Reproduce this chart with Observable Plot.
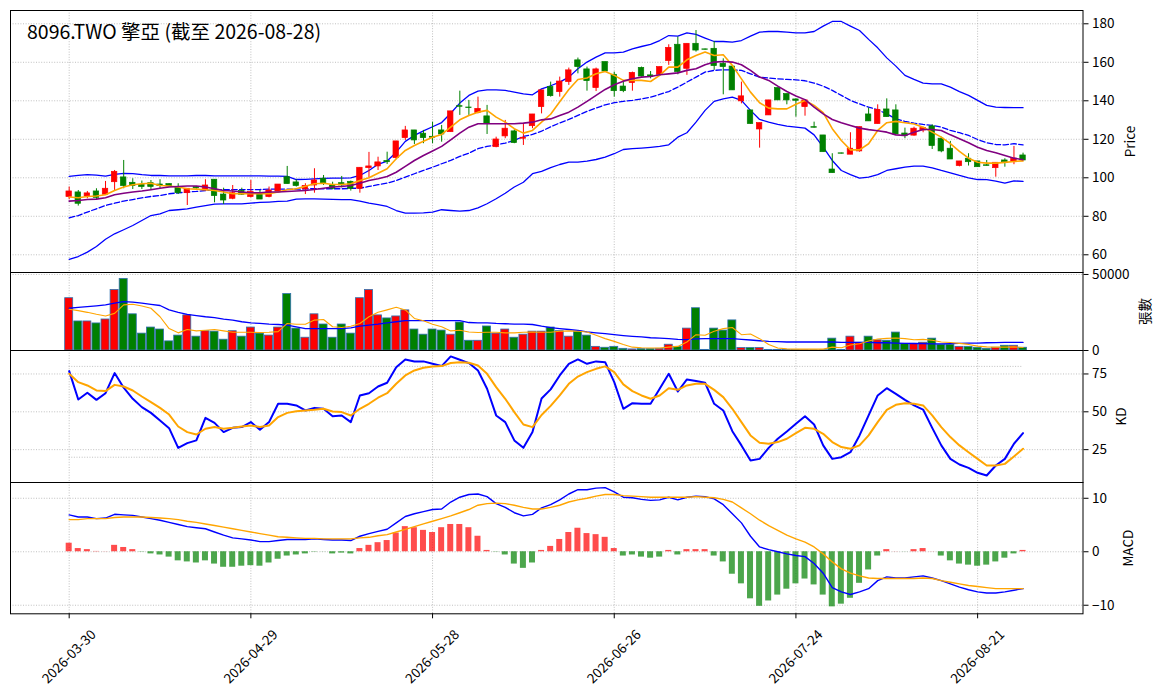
<!DOCTYPE html>
<html>
<head>
<meta charset="utf-8">
<script src="https://cdn.jsdelivr.net/npm/d3@7"></script>
<script src="https://cdn.jsdelivr.net/npm/@observablehq/plot@0.6"></script>
<style>
  html, body { margin: 0; padding: 0; background: white; }
  #chart { position: relative; width: 1163px; height: 698px; }
  #chart svg { position: absolute; left: 0; top: 0; overflow: visible; }
</style>
</head>
<body>
<div id="chart"></div>
<script>
const title = "8096.TWO 擎亞 (截至 2026-08-28)";
const dates = ["2026-03-30","2026-03-31","2026-04-01","2026-04-02","2026-04-07","2026-04-08","2026-04-09","2026-04-10","2026-04-13","2026-04-14",
"2026-04-15","2026-04-16","2026-04-17","2026-04-20","2026-04-21","2026-04-22","2026-04-23","2026-04-24","2026-04-27","2026-04-28",
"2026-04-29","2026-04-30","2026-05-04","2026-05-05","2026-05-06","2026-05-07","2026-05-08","2026-05-11","2026-05-12","2026-05-13",
"2026-05-14","2026-05-15","2026-05-18","2026-05-19","2026-05-20","2026-05-21","2026-05-22","2026-05-25","2026-05-26","2026-05-27",
"2026-05-28","2026-05-29","2026-06-01","2026-06-02","2026-06-03","2026-06-04","2026-06-05","2026-06-08","2026-06-09","2026-06-10",
"2026-06-11","2026-06-12","2026-06-15","2026-06-16","2026-06-17","2026-06-18","2026-06-22","2026-06-23","2026-06-24","2026-06-25",
"2026-06-26","2026-06-29","2026-06-30","2026-07-01","2026-07-02","2026-07-03","2026-07-06","2026-07-07","2026-07-08","2026-07-09",
"2026-07-10","2026-07-13","2026-07-14","2026-07-15","2026-07-16","2026-07-17","2026-07-20","2026-07-21","2026-07-22","2026-07-23",
"2026-07-24","2026-07-27","2026-07-28","2026-07-29","2026-07-30","2026-07-31","2026-08-03","2026-08-04","2026-08-05","2026-08-06",
"2026-08-07","2026-08-10","2026-08-11","2026-08-12","2026-08-13","2026-08-14","2026-08-17","2026-08-18","2026-08-19","2026-08-20",
"2026-08-21","2026-08-24","2026-08-25","2026-08-26","2026-08-27","2026-08-28"];
const xTickDates = ["2026-03-30","2026-04-29","2026-05-28","2026-06-26","2026-07-24","2026-08-21"];

const open = [90.0,92.4,90.3,92.9,91.2,97.7,100.2,97.4,96.2,97.2,96.5,96.7,94.8,92.0,95.2,93.4,99.0,91.3,89.1,93.1,
90.0,92.0,90.0,92.9,100.3,97.6,94.0,96.0,99.5,96.0,97.2,97.9,94.3,105.0,105.9,108.7,110.2,120.6,124.6,122.9,
121.3,124.6,123.7,137.2,136.5,133.6,131.9,115.9,121.5,124.1,120.3,126.8,136.7,147.1,144.5,149.7,161.0,156.3,146.6,160.1,
153.5,147.4,149.2,157.1,153.2,153.5,160.6,169.1,156.6,169.6,166.7,167.0,159.2,157.8,139.7,135.0,125.1,132.4,146.6,143.5,
140.7,136.7,126.3,122.0,104.3,112.7,112.0,113.7,132.9,127.9,135.5,135.0,123.0,121.9,124.6,126.7,120.3,115.1,106.1,109.9,
108.5,106.5,105.0,109.0,108.1,111.6];
const high = [95.2,93.4,92.9,94.3,98.1,103.8,109.0,99.5,98.3,98.6,99.0,96.9,96.9,94.3,95.5,99.0,99.0,94.6,96.0,94.6,
98.6,93.4,95.2,96.5,105.9,99.0,96.9,104.7,101.2,97.7,100.7,98.3,105.2,113.2,110.7,113.3,118.9,126.7,124.6,124.6,
128.9,127.2,134.5,145.0,140.2,141.9,137.6,121.1,129.8,124.9,127.7,132.9,145.4,149.7,152.3,157.0,162.2,157.5,157.0,160.1,
154.9,150.0,154.9,157.5,155.2,157.5,169.1,173.1,169.6,176.5,166.9,170.8,161.8,157.8,149.7,135.0,128.4,140.2,146.6,143.5,
141.0,140.2,128.9,122.0,112.5,112.8,123.4,126.3,136.2,137.9,141.0,137.9,125.8,126.3,126.3,127.5,121.1,118.9,108.5,112.5,
108.5,109.0,107.8,109.9,116.3,112.8];
const low = [88.6,85.3,89.1,88.7,90.8,93.4,94.3,93.9,93.9,93.9,94.3,95.2,91.3,85.6,94.0,93.4,87.0,86.1,88.6,90.8,
89.6,88.7,89.6,92.6,96.7,95.2,91.3,92.0,96.0,93.8,94.8,93.1,92.0,100.0,103.8,106.9,109.4,119.4,117.3,117.7,
117.7,118.5,123.7,132.4,132.4,133.2,122.5,115.6,120.3,117.7,116.8,125.5,133.2,141.9,141.9,148.0,154.0,145.0,144.8,154.9,
141.9,144.2,145.0,152.3,151.4,152.8,158.4,153.5,153.2,165.3,166.3,155.8,143.1,145.4,138.4,127.9,115.4,132.4,140.2,137.9,
131.5,132.0,125.8,113.3,102.4,112.4,112.0,113.3,129.3,127.9,131.5,122.5,120.3,121.6,123.4,114.7,113.0,109.5,105.7,106.1,
105.5,106.1,100.3,105.5,106.8,109.0];
const close = [92.9,86.5,91.9,89.6,94.3,103.1,95.7,95.7,95.2,95.2,95.7,95.5,92.0,94.3,94.5,96.0,90.5,88.2,92.0,91.2,
92.6,88.7,93.4,96.5,96.7,95.7,95.8,98.6,96.9,94.3,96.0,94.3,105.2,105.9,108.0,108.1,118.9,124.6,119.4,120.6,
120.8,122.5,134.5,136.9,136.2,135.8,128.1,119.9,125.5,118.0,120.8,132.9,145.4,142.4,150.0,155.8,157.5,150.2,156.3,155.2,
145.0,145.0,154.5,152.6,152.3,157.5,167.5,154.9,169.6,166.1,166.5,158.0,157.5,145.4,142.3,127.9,128.4,140.2,140.2,140.2,
140.0,140.2,126.0,113.3,102.4,112.5,115.1,126.3,129.3,135.3,131.5,122.5,121.6,125.5,125.8,116.5,113.7,109.5,108.5,108.1,
105.5,106.2,107.8,108.1,109.9,109.0];
const ma5 = [90.0,89.6,90.3,90.5,91.2,93.4,95.2,96.4,96.9,97.2,96.0,95.7,95.2,94.3,94.1,93.8,93.4,92.6,91.7,91.7,
91.7,91.7,91.7,92.6,93.8,94.3,95.6,96.9,97.2,96.5,96.5,96.9,98.6,100.0,102.4,104.7,109.9,114.2,116.8,119.0,
121.1,122.5,126.3,130.1,132.4,134.1,135.0,131.5,128.9,125.5,123.2,124.6,128.9,133.0,139.5,145.9,151.1,151.8,154.0,155.2,
153.2,150.6,150.6,150.6,150.0,153.2,157.5,157.5,161.3,163.5,165.3,163.5,163.9,158.4,151.4,144.5,139.0,136.2,135.8,135.8,
138.2,140.2,137.6,133.8,125.5,119.4,114.5,114.5,117.7,124.6,128.6,129.3,128.6,127.9,126.3,123.7,121.1,117.7,113.7,110.2,
108.1,107.6,107.6,108.0,108.5,108.8];
const ma10 = [87.9,88.2,88.7,88.9,89.6,91.2,92.0,92.6,93.1,93.8,94.6,95.2,95.5,95.7,95.7,95.2,94.3,93.4,93.1,92.6,
92.2,92.2,92.6,92.6,92.9,93.1,93.4,93.9,94.6,95.2,95.5,96.0,97.2,98.6,99.5,100.7,102.9,105.9,109.0,111.6,
113.9,116.3,119.7,123.2,126.3,128.1,128.1,128.1,128.1,128.1,128.4,128.9,130.1,130.6,132.4,134.1,136.7,139.7,142.8,145.9,
148.3,150.2,151.4,152.3,152.6,153.5,154.0,154.5,155.8,156.6,158.7,160.1,160.4,160.1,158.7,155.8,152.3,150.6,147.6,144.8,
142.5,140.6,136.7,133.2,130.3,128.6,127.2,125.8,125.0,124.4,123.7,122.3,122.0,123.7,125.1,125.1,124.6,122.3,120.3,118.2,
115.9,114.2,113.0,111.6,110.2,109.4];
const ma20 = [79.2,80.4,82.2,83.9,85.6,86.8,87.9,88.7,89.6,90.3,90.8,91.7,92.2,92.6,92.9,93.4,93.8,93.8,93.8,93.8,
93.9,93.9,94.1,94.1,94.1,94.1,94.2,94.4,94.3,94.3,94.3,94.5,94.6,95.5,96.4,97.2,98.6,100.3,102.1,103.8,
105.5,107.3,109.0,111.1,112.8,115.1,116.3,117.1,118.0,119.4,121.5,122.5,124.2,126.5,128.5,130.3,132.4,134.5,136.2,137.9,
139.0,139.7,140.2,141.0,141.9,143.3,144.8,147.1,149.7,152.3,154.9,155.8,156.1,156.1,155.8,154.0,152.3,151.8,151.4,151.1,
150.9,150.4,149.2,147.6,145.4,142.8,140.2,138.4,136.7,135.3,133.2,130.6,129.3,128.4,127.7,127.2,126.3,124.6,123.4,122.0,
119.9,118.2,117.3,117.1,117.7,117.1];
const bbUpper = [100.7,101.2,101.6,101.4,100.9,101.8,102.3,102.2,101.6,101.2,101.2,101.0,101.0,101.0,101.2,101.2,101.0,101.0,101.0,101.0,
101.0,101.0,100.9,100.9,100.7,99.1,99.2,99.4,99.7,99.8,99.8,100.0,101.2,103.8,107.0,108.7,113.3,118.9,122.0,124.4,
126.5,128.7,133.5,138.8,142.8,145.0,145.7,145.7,145.4,144.5,143.6,143.1,146.2,147.8,149.7,152.3,156.6,160.1,162.7,164.9,
164.9,165.3,167.0,168.2,169.3,171.3,173.9,173.6,175.3,174.5,172.6,170.8,170.8,170.5,171.3,173.6,175.7,176.0,176.0,175.7,
175.3,175.3,176.0,178.8,181.2,181.2,178.8,176.5,171.9,167.5,162.3,158.0,153.2,151.1,149.2,148.8,148.8,147.1,144.8,142.8,
140.2,137.6,136.7,136.5,136.4,136.4];
const bbLower = [57.6,59.1,61.4,64.3,68.1,70.9,73.0,75.2,77.8,80.4,81.3,83.0,83.4,83.9,84.8,85.5,86.3,86.5,86.5,86.5,
86.8,87.2,87.4,87.7,87.9,88.9,89.0,89.0,88.9,88.8,88.7,88.7,87.9,86.8,86.1,85.1,83.0,81.6,81.6,81.8,
82.2,83.4,83.0,82.7,83.0,84.4,86.5,89.1,92.0,95.2,97.7,102.1,103.3,105.3,106.9,108.1,108.1,108.7,109.5,110.7,
112.5,114.7,115.1,115.4,115.8,116.3,117.1,121.1,123.4,128.9,135.0,139.7,141.0,141.9,140.2,135.0,130.3,128.9,127.7,126.8,
126.3,125.8,122.3,115.9,109.0,103.8,101.6,99.8,100.3,101.6,103.8,104.7,105.5,106.1,106.1,105.2,103.8,102.6,101.2,100.0,
99.1,99.0,98.3,97.2,98.4,98.1];
const volume = [34400,19100,19100,17800,20400,39800,47100,23800,11100,15100,13800,6000,9800,23100,9100,12700,12400,7100,12700,9100,
15100,11100,9800,15100,37100,14400,8400,23800,17100,8400,17100,11100,34400,39800,23100,21100,22400,26400,13800,10400,
13800,13100,10400,18400,6400,6400,15800,11100,13800,8400,10400,12400,12400,15100,12700,9100,12400,9800,2400,1800,
2400,1100,700,900,900,1100,3800,2400,14400,27800,400,14400,13100,19800,1600,1600,1600,400,400,400,
400,200,200,200,7800,400,9100,5100,9100,6700,6400,11800,4400,4400,5100,7800,3800,3800,2400,2400,
1800,1100,1800,3100,3100,1800];
const volMa5 = [27100,26200,25100,23800,22700,24400,30000,30400,29300,27800,22200,14400,11600,13800,12900,13300,13800,12900,12000,12000,
12000,11800,12000,12400,17800,17300,17300,20000,20400,15600,15100,16000,17800,22200,25100,26700,28400,26700,21100,19600,
17300,15600,12900,13300,12200,11800,12000,12000,11600,11600,12000,12200,12000,12000,12700,12900,12700,12200,10000,7800,
6000,4000,2200,1800,1600,1600,2200,2700,5600,10400,10000,12700,14400,15100,10400,10900,7800,4000,1600,1100,
900,900,900,900,2200,1800,3600,4400,6200,7600,8000,8200,7800,7100,7300,6700,5600,5300,4700,4000,
2900,2400,2200,2200,2400,2000];
const volMa20 = [27800,28300,28900,29400,30000,31100,32200,31800,31100,30400,29600,26700,25100,23800,23000,22200,21600,20700,20000,18900,
18200,17800,17300,17100,16700,15600,14400,14400,14400,14400,14400,14900,16000,16700,17300,18200,18900,19600,19600,19600,
19600,19600,19600,19600,18400,18200,18200,17800,17600,17400,17300,17100,16000,15100,14400,13800,13300,12200,11600,11100,
10400,9800,9300,8900,8400,8200,7800,7300,7100,7600,7800,7800,7800,7800,7300,6900,6400,6000,5800,5600,
5600,5600,5600,5600,5600,5300,5300,5300,5300,5100,5100,4900,4700,4600,4500,4400,4400,4500,4700,4800,
4900,5100,5200,5300,5300,5300];
const kLine = [76.9,58.1,62.6,57.9,62.3,75.6,65.9,58.6,53.1,49.3,44.3,39.2,26.2,29.3,31.1,46.0,42.7,36.6,39.4,39.9,
43.2,38.1,43.2,55.3,55.3,54.2,50.9,52.6,52.0,47.1,47.6,43.2,60.8,62.3,66.7,69.2,79.5,84.6,83.3,83.3,
81.7,80.2,86.6,84.4,82.2,77.3,65.2,47.6,43.2,31.1,26.2,36.6,58.8,64.8,74.0,81.7,84.6,81.7,83.3,82.8,
69.6,52.0,55.7,55.3,55.3,65.2,75.1,63.4,71.4,70.3,69.2,55.3,50.9,37.2,27.8,17.8,18.9,26.2,32.2,37.0,
42.1,47.1,41.6,27.8,18.9,20.0,23.3,34.4,47.6,60.8,65.6,61.9,57.9,54.2,51.5,39.4,27.8,18.9,15.2,13.0,
9.7,7.9,14.5,18.9,28.9,35.9];
const dLine = [75.1,69.6,67.4,64.1,63.7,67.8,66.7,64.1,60.1,56.4,52.6,48.2,40.3,36.6,35.0,38.8,39.9,38.8,39.4,40.3,
41.0,39.9,41.0,46.5,49.3,50.4,50.9,51.3,52.0,50.2,49.8,47.6,52.0,55.3,59.3,62.3,68.5,74.0,77.3,79.1,
80.0,80.2,82.2,82.8,82.4,80.6,75.1,66.3,58.6,49.8,41.6,39.9,47.9,53.9,60.8,68.5,73.3,76.2,78.4,80.0,
76.2,68.1,63.7,60.8,58.6,60.8,65.6,64.5,67.4,68.5,68.5,64.5,59.7,52.0,43.2,34.4,29.5,28.9,30.0,32.2,
35.9,39.4,38.8,35.5,30.0,26.7,25.6,27.8,34.4,43.2,51.3,54.6,55.7,55.3,54.2,47.6,39.9,33.3,27.8,23.3,
18.9,14.5,14.5,15.6,20.5,25.6];
const dif = [6.9,6.5,6.5,6.2,6.3,7.0,6.9,6.8,6.5,6.2,5.9,5.5,5.1,4.7,4.5,4.3,3.7,3.1,2.6,2.4,
2.2,1.9,1.9,2.1,2.3,2.3,2.3,2.4,2.3,2.2,2.2,2.1,2.9,3.4,3.8,4.2,5.4,6.6,7.1,7.5,
7.9,8.0,9.3,10.2,10.7,10.8,10.3,9.0,8.3,7.3,6.7,7.0,8.2,8.8,9.7,10.8,11.6,11.6,11.9,12.0,
11.2,10.2,10.1,9.8,9.6,9.7,10.2,9.7,10.2,10.4,10.3,9.9,8.8,7.1,5.4,2.9,0.9,0.4,0.0,-0.4,
-0.7,-0.9,-2.2,-4.0,-6.7,-7.5,-8.0,-7.5,-6.9,-5.4,-4.7,-4.9,-4.9,-4.7,-4.5,-4.9,-5.4,-6.0,-6.6,-7.1,
-7.5,-7.7,-7.7,-7.5,-7.2,-6.9];
const dea = [6.0,6.0,6.2,6.2,6.2,6.4,6.5,6.5,6.5,6.4,6.3,6.2,6.0,5.7,5.5,5.2,4.9,4.6,4.3,4.0,
3.7,3.4,3.1,2.8,2.7,2.6,2.5,2.5,2.4,2.4,2.4,2.4,2.6,2.7,3.0,3.2,3.7,4.2,4.7,5.2,
5.7,6.2,6.7,7.3,7.9,8.7,9.0,9.1,9.0,8.7,8.3,8.0,8.0,8.3,8.7,9.3,9.7,10.0,10.4,10.7,
10.7,10.5,10.4,10.3,10.2,10.2,10.2,10.2,10.2,10.3,10.2,10.1,9.8,9.3,8.2,7.1,5.9,4.9,4.0,3.1,
2.4,1.8,0.9,-0.4,-1.9,-3.2,-4.0,-4.5,-4.9,-5.0,-5.0,-5.0,-5.0,-5.0,-4.9,-5.0,-5.4,-5.7,-6.0,-6.3,
-6.5,-6.7,-6.9,-6.9,-6.9,-6.9];
const hist = [1.6,0.6,0.4,0.06,0.02,1.2,0.8,0.4,-0.05,-0.4,-0.6,-1.0,-1.7,-1.9,-2.1,-1.7,-2.3,-2.9,-2.9,-2.7,
-2.6,-2.7,-2.1,-1.4,-0.8,-0.6,-0.4,-0.06,-0.02,-0.4,-0.25,-0.4,0.6,1.2,1.7,2.1,3.5,4.7,4.5,4.0,
3.6,4.5,5.1,5.1,4.5,2.9,0.25,-0.05,-0.6,-2.3,-3.1,-2.1,0.25,1.0,2.3,3.6,4.4,3.4,3.2,2.7,
0.6,-0.8,-0.6,-1.0,-1.2,-1.0,0.25,-0.6,0.4,0.4,0.4,-0.8,-1.9,-4.2,-6.0,-8.8,-10.2,-9.2,-8.1,-7.0,
-6.0,-5.1,-6.2,-8.1,-10.3,-9.8,-8.7,-5.9,-3.4,-0.8,0.4,0.02,-0.02,0.4,0.6,0.02,-0.8,-1.7,-2.3,-2.5,
-2.7,-2.5,-1.9,-1.2,-0.4,0.25];

const priceTicks = [60, 80, 100, 120, 140, 160, 180];
const volTicks = [0, 50000];
const kdTicks = [25, 50, 75];
const kdRefs = [80, 20];
const macdTicks = [-10, 0, 10];

const rows = dates.map((date, i) => ({
  i, date, open: open[i], high: high[i], low: low[i], close: close[i],
  ma5: ma5[i], ma10: ma10[i], ma20: ma20[i], up: bbUpper[i], lo: bbLower[i],
  vol: volume[i], vma5: volMa5[i], vma20: volMa20[i],
  k: kLine[i], d: dLine[i], dif: dif[i], dea: dea[i], hist: hist[i],
  col: close[i] >= open[i] ? "red" : "green"
}));
const xTicks = xTickDates.map(d => dates.indexOf(d));

const W = 1163, H = 698;
const FONT = "'Noto Sans CJK TC', 'Noto Sans', sans-serif";
const xDomain = [-6.46, 111.6];
const gridStyle = {stroke: "#b0b0b0", strokeOpacity: 1, strokeWidth: 0.8, strokeDasharray: "1,1.6"};

function panel({top, bottom, yDomain, yTicks, tickFormat, label, labelDx, marks, bottomAxis}) {
  const extra = [];
  if (bottomAxis) {
    extra.push(Plot.axisX(xTicks, {anchor: "bottom", tickSize: 5, tickFormat: () => "", label: null, strokeWidth: 1}));
    extra.push(Plot.text(xTicks, {x: d => d, text: d => dates[d], frameAnchor: "bottom", dy: 43, rotate: -45,
      textAnchor: "middle", lineAnchor: "middle", fontSize: 13.5, fill: "black"}));
  }
  return Plot.plot({
    width: W, height: H,
    marginLeft: 10, marginRight: W - 1082.5, marginTop: top, marginBottom: H - bottom,
    x: {domain: xDomain, axis: null, label: null},
    y: {domain: yDomain, label: null},
    color: {type: "identity"},
    style: {background: "transparent", overflow: "visible", fontFamily: FONT, color: "black"},
    marks: [
      Plot.gridY(yTicks, gridStyle),
      Plot.gridX(xTicks, gridStyle),
      ...marks,
      Plot.axisY(yTicks, {anchor: "right", tickSize: 5, tickPadding: 4, label: null, fontSize: 13.5, tickFormat}),
      ...extra,
      Plot.frame({stroke: "black", strokeWidth: 1}),
      Plot.text([label], {frameAnchor: "right", dx: labelDx, rotate: -90, textAnchor: "middle", lineAnchor: "middle", fontSize: 13.5, fill: "black"})
    ]
  });
}

const chart = document.getElementById("chart");

chart.append(panel({
  top: 10, bottom: 272, yDomain: [50.8, 186.9], yTicks: priceTicks, label: "Price", labelDx: 47.5,
  marks: [
    Plot.line(rows, {x: "i", y: "up", stroke: "blue", strokeWidth: 1.3}),
    Plot.line(rows, {x: "i", y: "lo", stroke: "blue", strokeWidth: 1.3}),
    Plot.line(rows, {x: "i", y: "ma20", stroke: "blue", strokeWidth: 1.3, strokeDasharray: "5.5,2.4"}),
    Plot.ruleX(rows, {x: "i", y1: "low", y2: "high", stroke: "col", strokeWidth: 1}),
    Plot.rect(rows, {x1: d => d.i - 0.3, x2: d => d.i + 0.3, y1: "open", y2: "close", fill: "col", stroke: "col", strokeWidth: 0.7}),
    Plot.line(rows, {x: "i", y: "ma5", stroke: "orange", strokeWidth: 1.6}),
    Plot.line(rows, {x: "i", y: "ma10", stroke: "purple", strokeWidth: 1.6}),
    Plot.text([title], {frameAnchor: "top-left", dx: 16.5, dy: 15, textAnchor: "start", lineAnchor: "top", fontSize: 19.5, fontWeight: "normal", fill: "black"})
  ]
}));

chart.append(panel({
  top: 272, bottom: 350, yDomain: [0, 51300], yTicks: volTicks, tickFormat: d3.format("d"), label: "張數", labelDx: 62.5,
  marks: [
    Plot.rectY(rows, {x1: d => d.i - 0.44, x2: d => d.i + 0.44, y: "vol", fill: "col", stroke: "#2f70b0", strokeWidth: 0.8}),
    Plot.line(rows, {x: "i", y: "vma20", stroke: "blue", strokeWidth: 1.3}),
    Plot.line(rows, {x: "i", y: "vma5", stroke: "orange", strokeWidth: 1.1})
  ]
}));

chart.append(panel({
  top: 350, bottom: 482, yDomain: [3.3, 90.5], yTicks: kdTicks, label: "KD", labelDx: 38.5,
  marks: [
    Plot.ruleY(kdRefs, {x1: () => 0, x2: () => dates.length - 1, ...gridStyle}),
    Plot.line(rows, {x: "i", y: "k", stroke: "blue", strokeWidth: 2}),
    Plot.line(rows, {x: "i", y: "d", stroke: "orange", strokeWidth: 2})
  ]
}));

chart.append(panel({
  top: 482, bottom: 613.3, yDomain: [-11.6, 12.95], yTicks: macdTicks, label: "MACD", labelDx: 45.5, bottomAxis: true,
  marks: [
    Plot.rectY(rows, {x1: d => d.i - 0.33, x2: d => d.i + 0.33, y: "hist", fill: d => d.hist >= 0 ? "red" : "green", fillOpacity: 0.7}),
    Plot.line(rows, {x: "i", y: "dif", stroke: "blue", strokeWidth: 1.4}),
    Plot.line(rows, {x: "i", y: "dea", stroke: "orange", strokeWidth: 1.4})
  ]
}));
</script>
</body>
</html>
